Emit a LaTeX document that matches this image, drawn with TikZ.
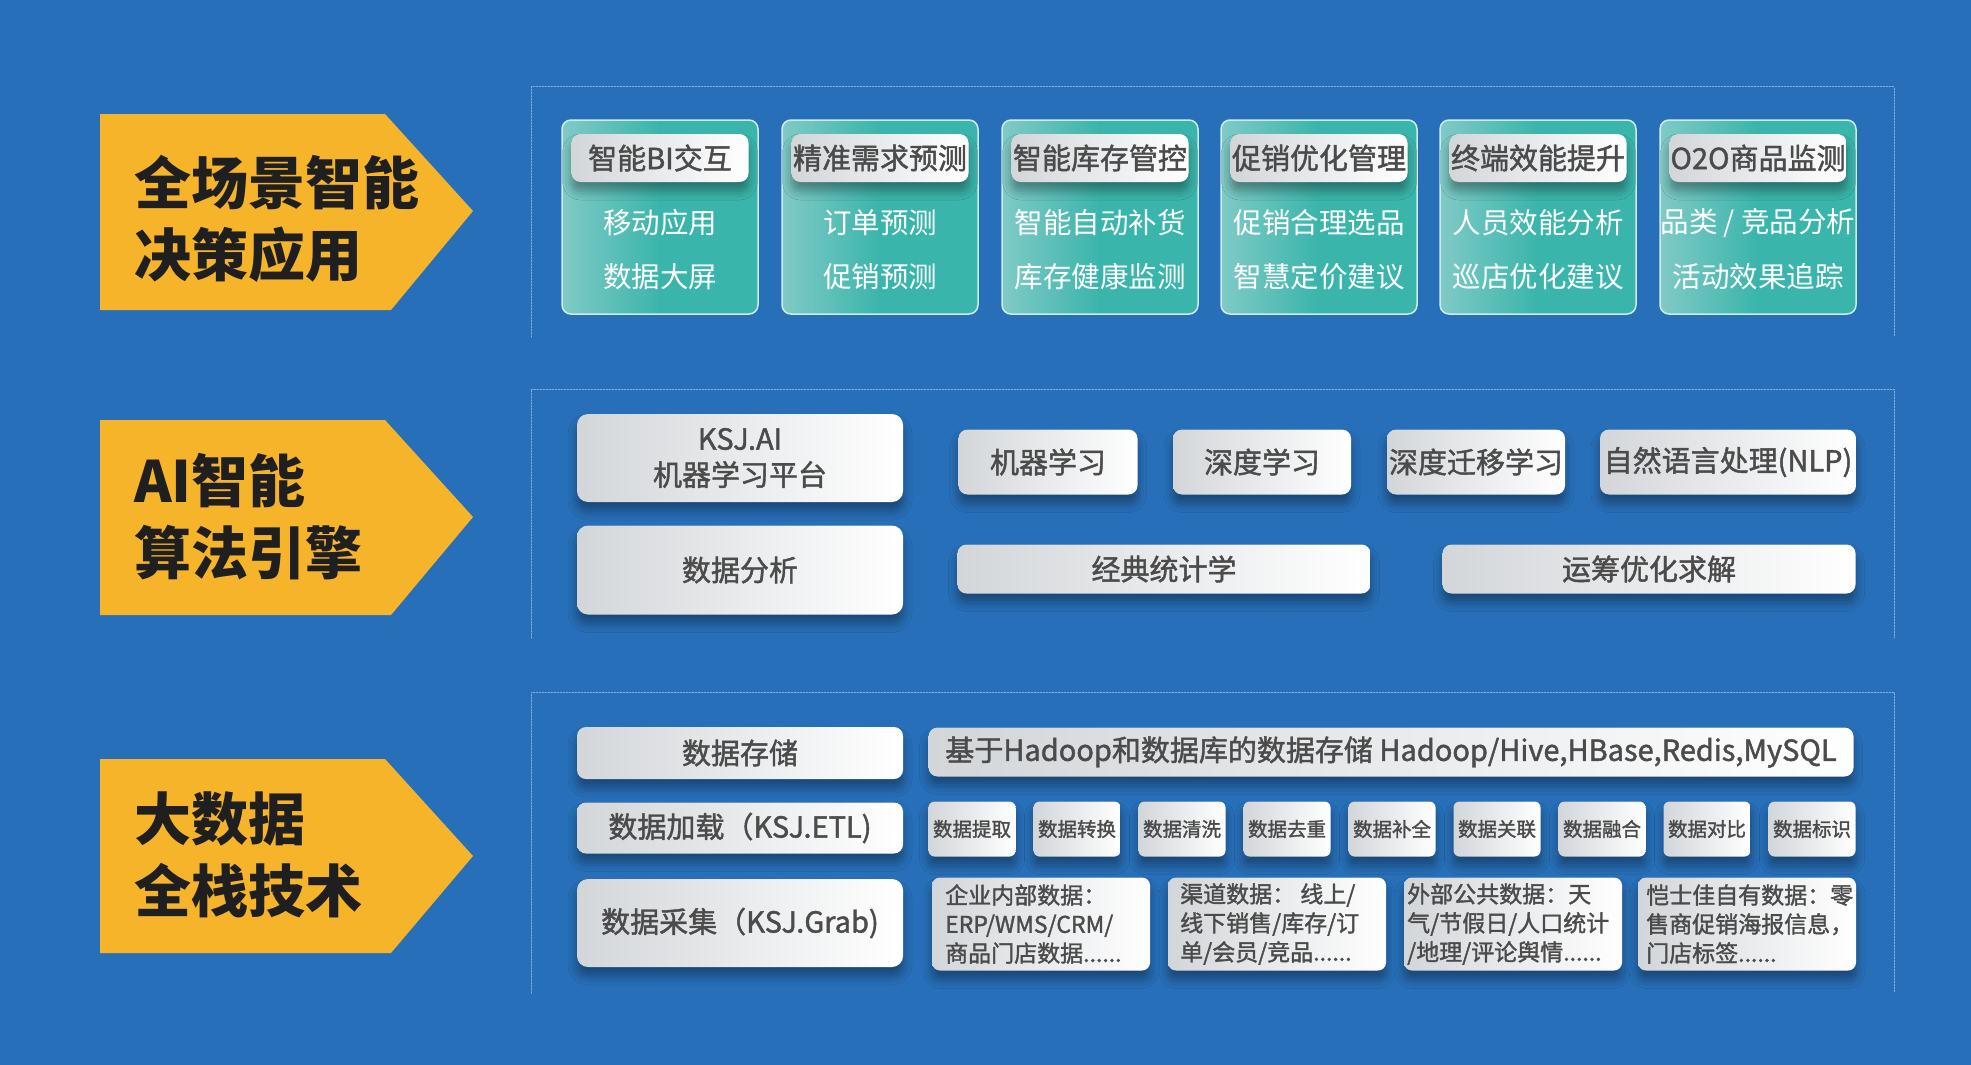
\documentclass[tikz,border=0pt]{standalone}
\usepackage{fontspec}
\setmainfont{Noto Sans CJK SC}
\newfontfamily\medfont{Noto Sans CJK SC}[FakeBold=1.5]
\usepackage{tikz}
\usetikzlibrary{shadows.blur}
\definecolor{bgblue}{HTML}{276FB8}
\definecolor{arroworange}{HTML}{F6B42B}
\definecolor{tealL}{HTML}{80CAC6}
\definecolor{tealR}{HTML}{3AB5AB}
\definecolor{greyL}{HTML}{D3D6D9}
\definecolor{txtgrey}{HTML}{4B4B4B}
\definecolor{dotline}{HTML}{86AEDB}
\tikzset{
  region/.style={draw=dotline,line width=1pt,dash pattern=on 1.5pt off 1.5pt},
  arrowbody/.style={fill=arroworange},
  arrowtext/.style={anchor=west,align=left,inner sep=0pt,text=black!88,
    font=\fontsize{57}{72}\selectfont\bfseries},
  card/.style={rounded corners=9pt,left color=tealL,right color=tealR,middle color=tealR,
    draw=white!75!tealR,line width=1.5pt,minimum width=196pt,minimum height=194pt,inner sep=0pt},
  greyshade/.style={rounded corners=9pt,left color=greyL,right color=white,inner sep=0pt,
    text=txtgrey,align=center,
    blur shadow={shadow xshift=0pt,shadow yshift=-9pt,shadow blur radius=9pt,shadow opacity=35}},
  pill/.style={greyshade,minimum width=177pt,minimum height=48pt,
    font=\fontsize{29}{34}\selectfont\medfont},
  cardtext/.style={text=white,inner sep=0pt,font=\fontsize{28.5}{34}\selectfont},
  bigbox/.style={greyshade,rounded corners=11pt,minimum width=326pt,
    font=\fontsize{29}{36}\selectfont\medfont},
  algobox/.style={greyshade,font=\fontsize{29}{36}\selectfont\medfont},
  etlbox/.style={greyshade,rounded corners=6pt,minimum width=87pt,minimum height=55pt,
    font=\fontsize{19.5}{24}\selectfont\medfont},
  srcbox/.style={greyshade,rounded corners=8pt,minimum width=218pt,minimum height=93pt},
  srctext/.style={anchor=west,align=left,inner sep=0pt,text=txtgrey,
    font=\fontsize{23}{29}\selectfont\medfont}
}

\begin{document}
\begin{tikzpicture}[x=1pt,y=-1pt,line cap=round]

  \useasboundingbox (0,0) rectangle (1971,1065);
  \fill[bgblue] (0,0) rectangle (1971,1065);

  % dotted frames of the three layers
  \draw[region] (531,337) -- (531,87) -- (1894,87) -- (1894,337);
  \draw[region] (531,638) -- (531,389) -- (1894,389) -- (1894,638);
  \draw[region] (531,993) -- (531,692) -- (1894,692) -- (1894,993);

  % orange arrows
  \fill[arrowbody] (100,114) -- (385,114) -- (473,211) -- (391,310) -- (100,310) -- cycle;
  \fill[arrowbody] (100,420) -- (385,420) -- (473,517) -- (391,615) -- (100,615) -- cycle;
  \fill[arrowbody] (100,759) -- (385,759) -- (473,856) -- (391,953) -- (100,953) -- cycle;

  \node[arrowtext] (app) at (134,219) {全场景智能\\决策应用};
  \node[arrowtext] (algo) at (134,517) {AI智能\\算法引擎};
  \node[arrowtext] (bigdata) at (134,855) {大数据\\全栈技术};

  % layer 1
  \node[card] (bi) at (660,217) {};
  \node[pill] (bi-t) at (660,158) {智能BI交互};
  \node[cardtext] (bi-a) at (660,223) {移动应用};
  \node[cardtext] (bi-b) at (660,277) {数据大屏};

  \node[card] (xuqiu) at (880,217) {};
  \node[pill] (xuqiu-t) at (880,158) {精准需求预测};
  \node[cardtext] (xuqiu-a) at (880,223) {订单预测};
  \node[cardtext] (xuqiu-b) at (880,277) {促销预测};

  \node[card] (kucun) at (1100,217) {};
  \node[pill] (kucun-t) at (1100,158) {智能库存管控};
  \node[cardtext] (kucun-a) at (1100,223) {智能自动补货};
  \node[cardtext] (kucun-b) at (1100,277) {库存健康监测};

  \node[card] (cuxiao) at (1319,217) {};
  \node[pill] (cuxiao-t) at (1319,158) {促销优化管理};
  \node[cardtext] (cuxiao-a) at (1319,223) {促销合理选品};
  \node[cardtext] (cuxiao-b) at (1319,277) {智慧定价建议};

  \node[card] (xiaoneng) at (1538,217) {};
  \node[pill] (xiaoneng-t) at (1538,158) {终端效能提升};
  \node[cardtext] (xiaoneng-a) at (1538,223) {人员效能分析};
  \node[cardtext] (xiaoneng-b) at (1538,277) {巡店优化建议};

  \node[card] (otwoo) at (1758,217) {};
  \node[pill] (otwoo-t) at (1758,158) {O2O商品监测};
  \node[cardtext] (otwoo-a) at (1758,223) {品类 / 竞品分析};
  \node[cardtext] (otwoo-b) at (1758,277) {活动效果追踪};

  % layer 2
  \node[bigbox,minimum height=88pt] (ksjai) at (740,458) {KSJ.AI\\机器学习平台};
  \node[bigbox,minimum height=89pt] (fenxi) at (740,570) {数据分析};

  \node[algobox,minimum width=179pt,minimum height=65pt] (jiqi) at (1048,462) {机器学习};
  \node[algobox,minimum width=178pt,minimum height=65pt] (shendu) at (1262,462) {深度学习};
  \node[algobox,minimum width=178pt,minimum height=65pt] (qianyi) at (1476,462) {深度迁移学习};
  \node[algobox,minimum width=256pt,minimum height=65pt] (nlp) at (1728,462) {自然语言处理(NLP)};
  \node[algobox,minimum width=413pt,minimum height=49pt] (tongji) at (1164,569) {经典统计学};
  \node[algobox,minimum width=413pt,minimum height=49pt] (yunchou) at (1649,569) {运筹优化求解};

  % layer 3
  \node[bigbox,rounded corners=9pt,minimum height=52pt] (cunchu) at (740,753) {数据存储};
  \node[algobox,minimum width=925pt,minimum height=49pt]
    (hadoop) at (1391,752) {基于Hadoop和数据库的数据存储 Hadoop/Hive,HBase,Redis,MySQL};

  \node[bigbox,rounded corners=9pt,minimum height=51pt] (jiazai) at (740,828) {数据加载（KSJ.ETL)};
  \node[etlbox] (tiqu) at (972,829) {数据提取};
  \node[etlbox] (zhuanhuan) at (1077,829) {数据转换};
  \node[etlbox] (qingxi) at (1182,829) {数据清洗};
  \node[etlbox] (quchong) at (1287,829) {数据去重};
  \node[etlbox] (buquan) at (1392,829) {数据补全};
  \node[etlbox] (guanlian) at (1497,829) {数据关联};
  \node[etlbox] (ronghe) at (1602,829) {数据融合};
  \node[etlbox] (duibi) at (1707,829) {数据对比};
  \node[etlbox] (biaoshi) at (1812,829) {数据标识};

  \node[bigbox,minimum height=88pt] (caiji) at (740,923) {数据采集（KSJ.Grab)};
  \node[srcbox] (neibu) at (1041,924) {};
  \node[srcbox] (qudao) at (1277,924) {};
  \node[srcbox] (waibu) at (1513,924) {};
  \node[srcbox] (ziyou) at (1747,924) {};
  \node[srctext] (neibu-t) at (945,924) {企业内部数据：\\ERP/WMS/CRM/\\商品门店数据......};
  \node[srctext] (qudao-t) at (1180,924) {渠道数据： 线上/\\线下销售/库存/订\\单/会员/竞品......};
  \node[srctext] (waibu-t) at (1407,924) {外部公共数据：天\\气/节假日/人口统计\\/地理/评论舆情......};
  \node[srctext] (ziyou-t) at (1646,924) {恺士佳自有数据：零\\售商促销海报信息，\\门店标签......};

\end{tikzpicture}
\end{document}
